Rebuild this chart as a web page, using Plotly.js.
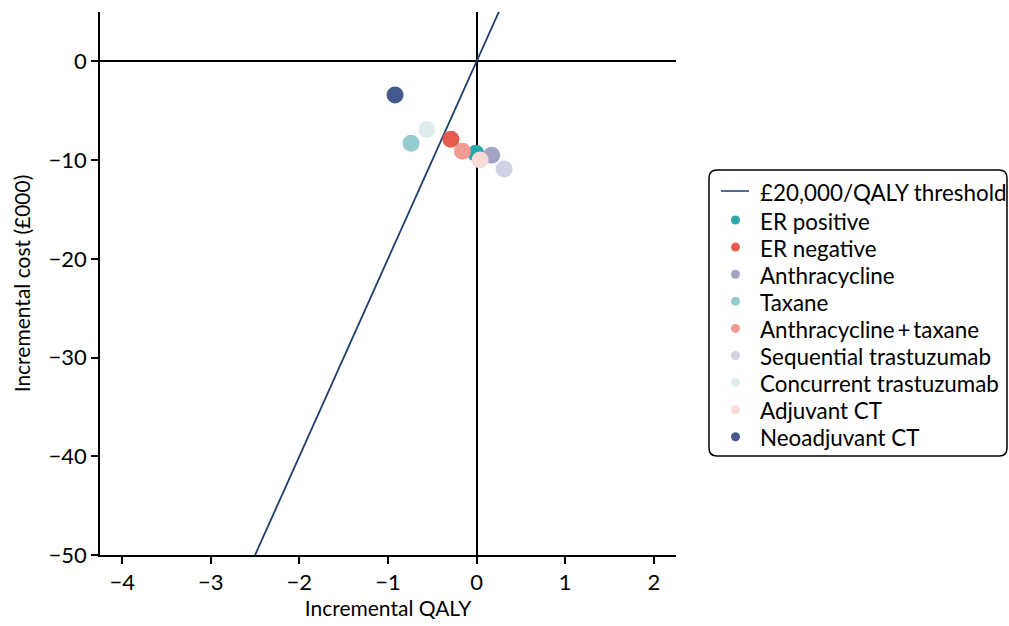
<!DOCTYPE html>
<html><head><meta charset="utf-8">
<script src="https://cdn.plot.ly/plotly-3.0.1.min.js"></script>
<style>body{margin:0;background:#fff}#chart{width:1009px;height:626px}</style>
</head><body><div id="chart"></div>
<script>
const names = ["ER positive","ER negative","Anthracycline","Taxane","Anthracycline\u2009+\u2009taxane","Sequential trastuzumab","Concurrent trastuzumab","Adjuvant CT","Neoadjuvant CT"];
const qaly = [-0.01, -0.29, 0.17, -0.74, -0.16, 0.31, -0.56, 0.04, -0.92];
const cost = [-9.3, -7.9, -9.5, -8.3, -9.1, -10.9, -6.9, -10.0, -3.4];
const colors = ["#2aa5a8","#e85a4f","#a3a3c3","#96cbd0","#f09b91","#d2d2e5","#ddeded","#f9dad6","#46598c"];
const threshold = 20; // £000 per QALY
const lineQaly = [-4.25, 2.25];
const lineName = "£20,000/QALY threshold";
const lineColor = "#1d3f6e";

const traces = [{
  x: lineQaly, y: lineQaly.map(q => q * threshold),
  mode: "lines", name: lineName, showlegend: false,
  line: {color: lineColor, width: 1.8}
}];
names.forEach((n, i) => traces.push({
  x: [qaly[i]], y: [cost[i]], mode: "markers", name: n, showlegend: false,
  marker: {color: colors[i], size: 17}
}));

// ---- hand-built legend (to match the compact reference legend) ----
const W = 1009, H = 626, M = {l: 100, r: 333, t: 12, b: 71};
const pw = W - M.l - M.r, ph = H - M.t - M.b;
const px2x = p => (p - M.l) / pw;
const py2y = p => (H - M.b - p) / ph;
const rowY = i => i === 0 ? 191 : 220 + (i - 1) * 27.1;
const legendLabels = [lineName].concat(names);

const annotations = legendLabels.map((t, i) => ({
  text: t, xref: "paper", yref: "paper", x: px2x(758), y: py2y(rowY(i) + 1),
  xanchor: "left", yanchor: "middle", showarrow: false,
  font: {size: 22.4, color: "#000"}
}));
const r = 8, bw = 298, bh = 286;
const shapes = [{
  type: "path", xref: "paper", yref: "paper",
  xsizemode: "pixel", ysizemode: "pixel",
  xanchor: px2x(709), yanchor: py2y(170),
  path: `M ${r},0 L ${bw - r},0 Q ${bw},0 ${bw},-${r} L ${bw},-${bh - r} Q ${bw},-${bh} ${bw - r},-${bh} L ${r},-${bh} Q 0,-${bh} 0,-${bh - r} L 0,-${r} Q 0,0 ${r},0 Z`,
  line: {color: "#000", width: 1.5}, fillcolor: "rgba(0,0,0,0)"
}, {
  type: "line", xref: "paper", yref: "paper",
  x0: px2x(721), x1: px2x(749), y0: py2y(rowY(0)), y1: py2y(rowY(0)),
  line: {color: lineColor, width: 1.5}
}];
names.forEach((n, i) => shapes.push({
  type: "circle", xref: "paper", yref: "paper",
  xsizemode: "pixel", ysizemode: "pixel",
  xanchor: px2x(735.5), yanchor: py2y(rowY(i + 1)),
  x0: -4.5, x1: 4.5, y0: -4.5, y1: 4.5,
  fillcolor: colors[i], line: {width: 0}
}));

const layout = {
  width: W, height: H, margin: M,
  paper_bgcolor: "#fff", plot_bgcolor: "#fff",
  font: {family: "Lato, sans-serif", size: 21, color: "#000"},
  showlegend: false,
  xaxis: {
    range: [-4.25, 2.25], tickvals: [-4,-3,-2,-1,0,1,2],
    showgrid: false, zeroline: true, zerolinecolor: "#000", zerolinewidth: 1.5,
    showline: true, linecolor: "#000", linewidth: 1.5,
    ticks: "outside", ticklen: 7, tickwidth: 1.5, tickcolor: "#000",
    tickfont: {size: 22},
    title: {text: "Incremental QALY", font: {size: 21}, standoff: 6}
  },
  yaxis: {
    range: [-50, 5], tickvals: [0,-10,-20,-30,-40,-50],
    showgrid: false, zeroline: true, zerolinecolor: "#000", zerolinewidth: 1.5,
    showline: true, linecolor: "#000", linewidth: 1.5,
    ticks: "outside", ticklen: 7, tickwidth: 1.5, tickcolor: "#000",
    tickfont: {size: 22},
    title: {text: "Incremental cost (£000)", font: {size: 21}, standoff: 12}
  },
  annotations: annotations,
  shapes: shapes
};
Plotly.newPlot("chart", traces, layout, {displayModeBar: false});
</script></body></html>
